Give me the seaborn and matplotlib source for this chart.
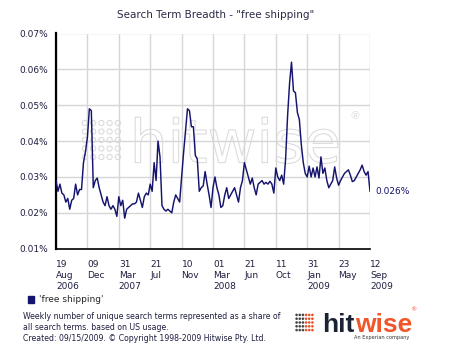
import numpy as np
import pandas as pd
import seaborn as sns
import matplotlib.pyplot as plt
import matplotlib.patheffects as pe
from matplotlib.patches import Patch
from matplotlib.ticker import FuncFormatter

# weekly search term breadth (% of all search terms), from 19 Aug 2006
start_date = '2006-08-19'
breadth = [
    0.0290, 0.0260, 0.0280, 0.0255, 0.0250, 0.0230, 0.0240, 0.0210, 0.0235, 0.0240,
    0.0280, 0.0250, 0.0265, 0.0265, 0.0340, 0.0370, 0.0410, 0.0490, 0.0485, 0.0270,
    0.0290, 0.0297, 0.0270, 0.0250, 0.0230, 0.0220, 0.0245, 0.0220, 0.0210, 0.0220,
    0.0210, 0.0190, 0.0245, 0.0220, 0.0235, 0.0185, 0.0210, 0.0215, 0.0220, 0.0225,
    0.0225, 0.0230, 0.0255, 0.0235, 0.0215, 0.0245, 0.0255, 0.0250, 0.0280, 0.0260,
    0.0340, 0.0290, 0.0400, 0.0356, 0.0220, 0.0210, 0.0205, 0.0210, 0.0205, 0.0200,
    0.0230, 0.0250, 0.0240, 0.0230, 0.0300, 0.0367, 0.0430, 0.0490, 0.0485, 0.0440,
    0.0440, 0.0360, 0.0350, 0.0260, 0.0270, 0.0275, 0.0315, 0.0280, 0.0250, 0.0215,
    0.0270, 0.0300, 0.0270, 0.0250, 0.0215, 0.0220, 0.0250, 0.0270, 0.0240, 0.0250,
    0.0260, 0.0270, 0.0250, 0.0230, 0.0270, 0.0290, 0.0340, 0.0320, 0.0300, 0.0280,
    0.0297, 0.0270, 0.0250, 0.0280, 0.0285, 0.0290, 0.0280, 0.0285, 0.0280, 0.0288,
    0.0280, 0.0255, 0.0325, 0.0300, 0.0290, 0.0305, 0.0280, 0.0350, 0.0470, 0.0560,
    0.0620, 0.0540, 0.0535, 0.0480, 0.0460, 0.0390, 0.0340, 0.0310, 0.0300, 0.0330,
    0.0300, 0.0325, 0.0300, 0.0328, 0.0297, 0.0356, 0.0310, 0.0325, 0.0290, 0.0270,
    0.0280, 0.0290, 0.0328, 0.0297, 0.0277, 0.0290, 0.0300, 0.0310, 0.0315, 0.0320,
    0.0305, 0.0287, 0.0290, 0.0300, 0.0310, 0.0320, 0.0333, 0.0315, 0.0305, 0.0315,
    0.0260,
]
tick_labels = ['19\nAug\n2006', '09\nDec', '31\nMar\n2007', '21\nJul', '10\nNov',
               '01\nMar\n2008', '21\nJun', '11\nOct', '31\nJan\n2009', '23\nMay',
               '12\nSep\n2009']
y_ticks = [0.01, 0.02, 0.03, 0.04, 0.05, 0.06, 0.07]
series_name = "'free shipping'"

navy = '#14146e'
text_col = '#1e1e40'

weeks = pd.date_range(start_date, periods=len(breadth), freq='7D')
df = pd.DataFrame({'week': weeks, 'breadth': breadth})

sns.set_style('white')
plt.rcParams['font.family'] = ['DejaVu Sans']

fig = plt.figure(figsize=(4.55, 3.55), dpi=100)
ax = fig.add_axes([56 / 455, 1 - 248.7 / 355, 314 / 455, 215.2 / 355])

# faint watermark behind the data
ax.text(0.235, 0.40, 'hitwise', transform=ax.transAxes, fontsize=43, color=(1, 1, 1, 0),
        va='baseline', ha='left', zorder=0,
        path_effects=[pe.Stroke(linewidth=0.8, foreground='#dcdcdc'), pe.Normal()])
ax.text(0.935, 0.60, '®', transform=ax.transAxes, fontsize=8, color='#e0e0e0', zorder=0)
gx, gy = np.meshgrid(np.linspace(0.092, 0.197, 5), np.linspace(0.426, 0.584, 5))
ax.scatter(gx.ravel(), gy.ravel(), s=14, facecolors='none', edgecolors='#dadada',
           linewidths=0.8, transform=ax.transAxes, zorder=0)

sns.lineplot(data=df, x='week', y='breadth', color=navy, linewidth=1.05, ax=ax, zorder=3)

ax.set_xlim(weeks[0], weeks[-1])
ax.set_ylim(y_ticks[0], y_ticks[-1])
ax.set_xticks(weeks[::16])
ax.set_xticks(weeks[::4], minor=True)
ax.set_xticklabels(tick_labels, ha='left', linespacing=1.3)
ax.set_yticks(y_ticks)
ax.yaxis.set_major_formatter(FuncFormatter(lambda v, p: f'{v:.2f}%'))
ax.set_xlabel('')
ax.set_ylabel('')

ax.grid(True, which='major', color='#d6d6d6', linewidth=1)
for s in ['top', 'right']:
    ax.spines[s].set_visible(False)
ax.spines['left'].set_linewidth(1.6)
ax.spines['bottom'].set_linewidth(1.2)
ax.spines['left'].set_color('black')
ax.spines['bottom'].set_color('black')

ax.tick_params(axis='both', which='major', direction='out', length=4, width=1,
               colors='black', labelcolor=text_col, labelsize=6.5)
ax.tick_params(axis='x', which='minor', direction='out', length=2.5, width=1, colors='black')
ax.tick_params(axis='x', which='major', pad=4)
ax.tick_params(axis='y', which='major', pad=1.5)

# last value label
ax.annotate(f'{breadth[-1]:.3f}%', xy=(weeks[-1], breadth[-1]), xytext=(4, 0),
            textcoords='offset points', va='center', ha='left', fontsize=6.5,
            color=navy, annotation_clip=False)

fig.text(216 / 455, 1 - 15 / 355, 'Search Term Breadth - "free shipping"',
         ha='center', va='center', fontsize=7.5, color='#2a2a48')

fig.legend(handles=[Patch(facecolor=navy, edgecolor=navy)], labels=[series_name],
           loc='center left', bbox_to_anchor=(28 / 455, 1 - 300 / 355), frameon=False,
           fontsize=6.5, handlelength=0.7, handleheight=0.7, handletextpad=0.5,
           borderaxespad=0, borderpad=0)

notes = ['Weekly number of unique search terms represented as a share of',
         'all search terms. based on US usage.',
         'Created: 09/15/2009. © Copyright 1998-2009 Hitwise Pty. Ltd.']
for i, line in enumerate(notes):
    fig.text(23 / 455, 1 - (316.7 + 10.8 * i) / 355, line, ha='left', va='center',
             fontsize=5.6, color=text_col)

# hitwise logo
fig.text(355 / 455, 1 - 331.5 / 355, 'hit', ha='right', va='baseline', fontsize=19,
         fontweight='bold', family='Liberation Sans', color='#1b2233')
fig.text(355 / 455, 1 - 331.5 / 355, 'wise', ha='left', va='baseline', fontsize=19,
         fontweight='bold', family='Liberation Sans', color='#f0562a')
fig.text(413 / 455, 1 - 310 / 355, '®', ha='center', va='center', fontsize=4.5,
         color='#f0562a')
fig.text(409 / 455, 1 - 338 / 355, 'An Experian company', ha='right', va='center',
         fontsize=3.6, color='#333333')
lax = fig.add_axes([295 / 455, 1 - 332 / 355, 19 / 455, 19 / 355])
dx, dy = np.meshgrid(np.arange(6), np.arange(5))
dot_cols = np.where(dx.ravel() < 3, '#444444', '#e8502a')
lax.scatter(dx.ravel(), dy.ravel(), s=3.5, c=dot_cols, linewidths=0)
lax.set_xlim(-0.5, 5.5)
lax.set_ylim(-0.5, 4.5)
lax.axis('off')

fig.savefig('out.png', dpi=100)
